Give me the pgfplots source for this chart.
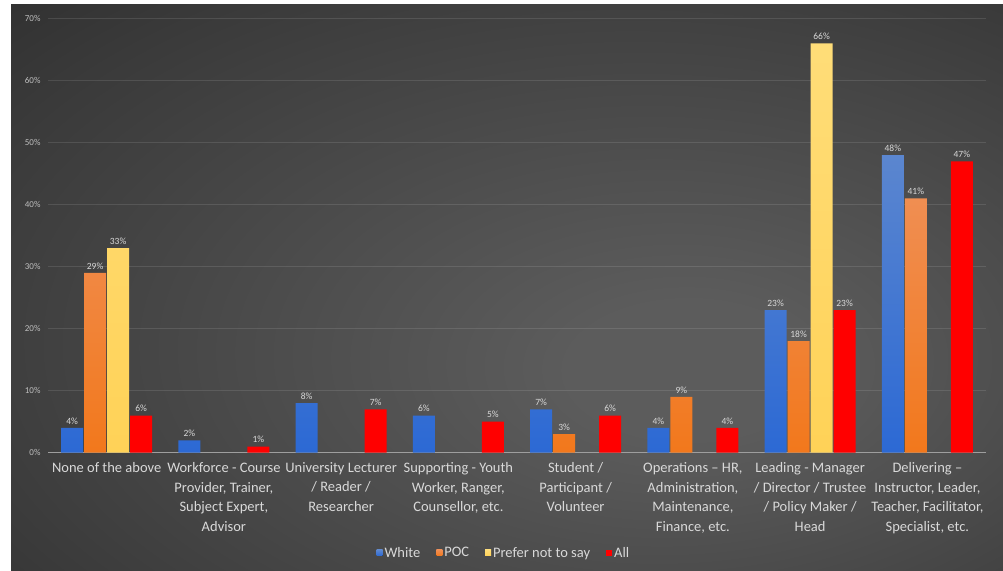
\documentclass[border=0pt]{standalone}
\usepackage{pgfplots}
\pgfplotsset{compat=1.18}
\usepackage{fontspec}
\setmainfont{Carlito}
\definecolor{bgin}{HTML}{5C5C5C}
\definecolor{bgmid}{HTML}{3A3A3A}
\definecolor{bgout}{HTML}{262626}
\definecolor{txt}{HTML}{D9D9D9}
\definecolor{tick}{HTML}{BFBFBF}
\definecolor{bluetop}{HTML}{5B86CF}
\definecolor{bluebot}{HTML}{2C69D4}
\definecolor{orgtop}{HTML}{F08E52}
\definecolor{orgbot}{HTML}{F2781C}
\definecolor{yeltop}{HTML}{FFDD78}
\definecolor{yelbot}{HTML}{FFD257}
\definecolor{redc}{HTML}{FF0000}
\pgfdeclareradialshading{bgshade}{\pgfpoint{10bp}{-8bp}}{color(0bp)=(bgin); color(6bp)=(bgin); color(35bp)=(bgmid); color(50bp)=(bgout); color(75bp)=(bgout)}
\begin{document}
\begin{tikzpicture}
\useasboundingbox (0,0) rectangle (1003pt,570pt);
\fill[white] (0,0) rectangle (1003pt,570pt);
\shade[shading=bgshade] (11pt,0) rectangle (1003pt,565pt);
\begin{axis}[
  scale only axis,
  width=938pt, height=434pt,
  at={(48pt,117.3pt)}, anchor=south west,
  xmin=-0.5, xmax=7.5, ymin=0, ymax=70,
  ybar=1pt, bar width=22pt,
  separate axis lines,
  axis x line*=bottom, axis y line*=left,
  x axis line style={draw=white!62!black, line width=1.3pt, -},
  y axis line style={draw=none},
  tick style={draw=none},
  ytick={0,10,...,70},
  ymajorgrids,
  major grid style={white, opacity=0.11, line width=0.8pt},
  /pgf/number format/assume math mode=true,
  yticklabel={\pgfmathprintnumber{\tick}\%},
  yticklabel style={font=\fontsize{9}{10}\selectfont, text=tick, xshift=-4pt},
  xtick={0,...,7},
  xticklabels={
    {None of the above},
    {Workforce - Course\\Provider, Trainer,\\Subject Expert,\\Advisor},
    {University Lecturer\\/ Reader /\\Researcher},
    {Supporting - Youth\\Worker, Ranger,\\Counsellor, etc.},
    {Student /\\Participant /\\Volunteer},
    {Operations – HR,\\Administration,\\Maintenance,\\Finance, etc.},
    {Leading - Manager\\/ Director / Trustee\\/ Policy Maker /\\Head},
    {Delivering –\\Instructor, Leader,\\Teacher, Facilitator,\\Specialist, etc.}},
  xticklabel style={align=center, text=txt, font=\fontsize{14.5}{19.5}\selectfont, anchor=north, yshift=-2pt},
  nodes near coords={\pgfmathprintnumber{\pgfplotspointmeta}\%},
  every node near coord/.append style={font=\fontsize{9.5}{10}\selectfont, text=txt, inner sep=3.5pt},
  legend style={at={(axis description cs:0.486,-0.231)}, anchor=center, legend columns=-1, draw=none, fill=none, font=\fontsize{14.5}{15}\selectfont, text=txt, /tikz/every even column/.append style={column sep=14pt}},
  legend image code/.code={\fill[#1] (0pt,-3pt) rectangle (6pt,3pt);},
]
\addplot[draw=none, top color=bluetop, bottom color=bluebot] coordinates {(0,4) (1,2) (2,8) (3,6) (4,7) (5,4) (6,23) (7,48)};
\addplot[draw=none, top color=orgtop, bottom color=orgbot] coordinates {(0,29) (4,3) (5,9) (6,18) (7,41)};
\addplot[draw=none, top color=yeltop, bottom color=yelbot] coordinates {(0,33) (6,66)};
\addplot[draw=none, fill=redc] coordinates {(0,6) (1,1) (2,7) (3,5) (4,6) (5,4) (6,23) (7,47)};
\legend{White, POC, Prefer not to say, All}
\end{axis}
\end{tikzpicture}
\end{document}
